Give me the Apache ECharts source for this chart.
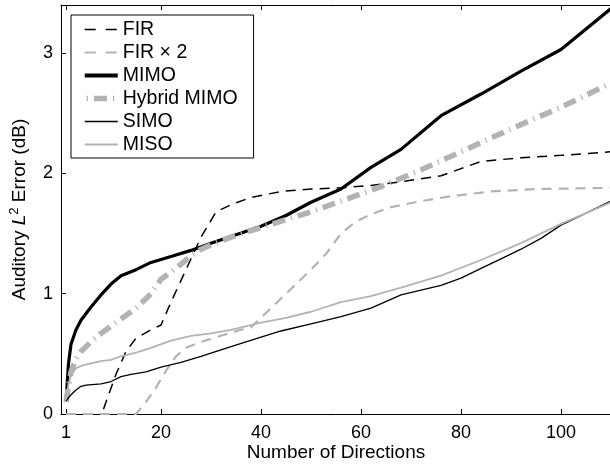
<!DOCTYPE html>
<html>
<head>
<meta charset="utf-8">
<script src="https://cdn.jsdelivr.net/npm/echarts@6/dist/echarts.min.js"></script>
<style>
  html, body { margin: 0; padding: 0; background: #fff; }
  #main { width: 610px; height: 466px; }
</style>
</head>
<body>
<div id="main"></div>
<script>
// data, [directions, error dB]
var fir = [[8.5,0.04],[9,0.1],[11,0.33],[13,0.52],[15,0.63],[18,0.7],[20,0.74],[22,0.93],[25,1.2],[28,1.47],[31,1.68],[34,1.74],[38,1.8],[44,1.85],[50,1.87],[56,1.88],[62,1.9],[68,1.93],[76,1.98],[84,2.1],[92,2.13],[100,2.15],[110,2.18]];
var fir2 = [[1,0],[5,0],[10,0],[15,0],[17,0.1],[19,0.22],[21,0.36],[23,0.48],[25,0.55],[28,0.6],[32,0.65],[36,0.7],[38,0.72],[41,0.84],[44,0.96],[47,1.08],[50,1.2],[53,1.33],[56,1.5],[59,1.6],[62,1.66],[66,1.72],[72,1.77],[78,1.81],[86,1.85],[95,1.87],[110,1.88]];
var mimo = [[1,0.1],[1.5,0.42],[2,0.58],[3,0.7],[4,0.78],[6,0.89],[8,0.99],[10,1.08],[12,1.15],[15,1.2],[18,1.26],[22,1.31],[26,1.36],[30,1.42],[35,1.49],[40,1.56],[45,1.65],[50,1.76],[56,1.87],[62,2.05],[68,2.2],[76,2.48],[84,2.66],[92,2.85],[100,3.03],[110,3.37]];
var hybrid = [[1,0.1],[2,0.35],[3,0.46],[4,0.52],[6,0.6],[8,0.67],[10,0.73],[12,0.79],[15,0.88],[18,1.0],[20,1.12],[22,1.18],[25,1.28],[28,1.37],[32,1.44],[36,1.5],[40,1.55],[46,1.63],[50,1.68],[56,1.77],[64,1.89],[72,2.03],[80,2.18],[90,2.37],[100,2.55],[110,2.75]];
var simo = [[1,0.11],[2,0.16],[3,0.2],[4,0.23],[5,0.24],[8,0.25],[10,0.27],[12,0.31],[14,0.33],[17,0.35],[20,0.39],[24,0.43],[28,0.48],[34,0.56],[40,0.64],[44,0.69],[50,0.75],[56,0.81],[62,0.88],[68,0.99],[72,1.03],[76,1.07],[80,1.13],[84,1.21],[88,1.29],[92,1.37],[96,1.46],[100,1.57],[105,1.67],[110,1.77]];
var miso = [[1,0.12],[1.5,0.25],[2,0.32],[3,0.38],[4,0.4],[6,0.42],[8,0.44],[10,0.45],[12,0.48],[15,0.51],[18,0.55],[22,0.61],[26,0.65],[30,0.67],[34,0.7],[40,0.76],[45,0.8],[50,0.85],[56,0.93],[62,0.98],[68,1.05],[76,1.15],[84,1.28],[92,1.42],[100,1.58],[110,1.76]];

var xTicks = [1, 20, 40, 60, 80, 100];
var yTicks = [0, 1, 2, 3];

var font = "'Liberation Sans', Arial, sans-serif";

function line(name, data, color, width, type) {
  return {
    name: name, type: "line", data: data, symbol: "none",
    animation: false, z: 2,
    lineStyle: { color: color, width: width, type: type },
    itemStyle: { color: color }
  };
}

var chart = echarts.init(document.getElementById("main"));
chart.setOption({
  backgroundColor: "#fff",
  textStyle: { fontFamily: font },
  grid: { left: 61, right: -1, top: 5, bottom: 52, outerBoundsMode: "none" },
  legend: {
    orient: "vertical", left: 71, top: 15,
    padding: [3, 16, 2, 11],
    itemWidth: 33, itemHeight: 14, itemGap: 0, itemTextGap: 11,
    backgroundColor: "#fff", borderColor: "#000", borderWidth: 1,
    itemStyle: { opacity: 0 },
    textStyle: { fontFamily: font, fontSize: 19.5, lineHeight: 23, color: "#000" },
    data: [
      { name: "FIR", lineStyle: { width: 1.5, type: [11, 10] } },
      { name: "FIR × 2", lineStyle: { width: 2.2, type: [11, 10] } },
      { name: "MIMO", lineStyle: { width: 3.8 } },
      { name: "Hybrid MIMO", lineStyle: { width: 5.5, dashOffset: 17 } },
      { name: "SIMO", lineStyle: { width: 1.3 } },
      { name: "MISO", lineStyle: { width: 1.8 } }
    ]
  },
  xAxis: [{
    type: "value", min: 0, max: 110,
    name: "Number of Directions", nameLocation: "middle", nameGap: 29, nameMoveOverlap: false,
    nameTextStyle: { fontFamily: font, fontSize: 19, color: "#000" },
    axisLine: { show: true, lineStyle: { color: "#000", width: 1 } },
    axisTick: { inside: true, length: 5, lineStyle: { color: "#000" }, customValues: xTicks },
    axisLabel: { fontSize: 18, color: "#000", margin: 10, fontFamily: font, customValues: xTicks },
    splitLine: { show: false }
  }, {
    type: "value", min: 0, max: 110, position: "top",
    axisLine: { show: true, lineStyle: { color: "#000", width: 1 } },
    axisTick: { inside: true, length: 5, lineStyle: { color: "#000" }, customValues: xTicks },
    axisLabel: { show: false },
    splitLine: { show: false }
  }],
  yAxis: {
    type: "value", min: 0, max: 3.4,
    name: "{a|Auditory }{i|L}{s|2}{a| Error (dB)}",
    nameLocation: "middle", nameGap: 29, nameRotate: 90, nameMoveOverlap: false,
    nameTextStyle: {
      rich: {
        a: { fontFamily: font, fontSize: 19, color: "#000", lineHeight: 24 },
        i: { fontFamily: font, fontSize: 19, color: "#000", fontStyle: "italic", lineHeight: 24 },
        s: { fontFamily: font, fontSize: 13, color: "#000", verticalAlign: "top", lineHeight: 24 }
      }
    },
    axisLine: { show: true, lineStyle: { color: "#000", width: 1 } },
    axisTick: { inside: true, length: 5, lineStyle: { color: "#000" }, customValues: yTicks },
    axisLabel: { fontSize: 18, color: "#000", margin: 8, fontFamily: font, customValues: yTicks },
    splitLine: { show: false }
  },
  series: [
    line("FIR", fir, "#000", 1.5, [10, 7]),
    line("FIR × 2", fir2, "#b3b3b3", 2.2, [10, 7]),
    line("MIMO", mimo, "#000", 3.2, "solid"),
    line("Hybrid MIMO", hybrid, "#b3b3b3", 5.5, [13, 6, 1.2, 6]),
    line("SIMO", simo, "#000", 1.3, "solid"),
    line("MISO", miso, "#b3b3b3", 1.8, "solid")
  ]
});
</script>
</body>
</html>
